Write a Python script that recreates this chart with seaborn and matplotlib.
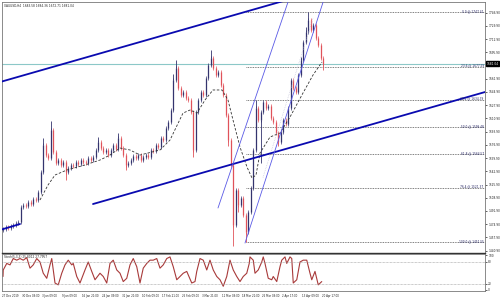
import matplotlib
matplotlib.use("Agg")
import matplotlib.pyplot as plt
import seaborn as sns
import numpy as np

# ---------------- data ----------------
title_text = "XAUUSD,H4  1683.58 1684.36 1672.71 1681.04"
stoch_title = "Stoch(5,3,3) 25.8012 27.7957"

closes = [1468.6, 1471.2, 1469.9, 1472.5, 1473.8, 1476.4, 1477.6, 1496.9, 1499.5, 1497.8,
          1503.0, 1501.2, 1507.9, 1505.6, 1516.2, 1542.0, 1576.7, 1563.8, 1560.0, 1596.0,
          1567.7, 1553.5, 1557.4, 1551.0, 1554.8, 1542.0, 1547.1, 1551.0, 1549.7, 1554.8,
          1552.2, 1557.4, 1554.8, 1553.5, 1560.0, 1557.4, 1561.2, 1570.3, 1580.6, 1572.8,
          1567.7, 1570.3, 1563.8, 1570.3, 1576.7, 1572.1, 1585.7, 1572.8, 1563.8, 1551.0,
          1553.5, 1557.4, 1562.5, 1560.0, 1563.8, 1557.4, 1561.2, 1563.8, 1560.9, 1570.3,
          1568.4, 1576.7, 1574.2, 1585.7, 1583.0, 1598.6, 1606.3, 1621.7, 1660.3, 1675.7,
          1650.0, 1641.0, 1644.9, 1637.2, 1634.6, 1619.1, 1570.3, 1619.1, 1634.6, 1644.9,
          1641.2, 1662.9, 1679.6, 1688.6, 1675.7, 1666.7, 1670.1, 1653.9, 1641.0, 1615.3,
          1583.1, 1551.0, 1473.8, 1518.8, 1499.5, 1508.5, 1486.6, 1464.8, 1490.5, 1521.4,
          1570.3, 1624.3, 1608.9, 1619.1, 1632.0, 1624.3, 1627.5, 1611.4, 1606.3, 1592.1,
          1580.6, 1593.4, 1608.9, 1604.2, 1624.3, 1660.3, 1650.0, 1644.9, 1666.7, 1686.1,
          1709.2, 1722.1, 1737.5, 1724.6, 1731.1, 1714.3, 1705.3, 1688.6, 1681.0]
first_open = 1467.0

hi_idx = [16, 19, 38, 46, 68, 69, 83, 101, 119, 121, 122]
hi_val = [1585.7, 1607.6, 1587.0, 1592.1, 1668.0, 1686.1, 1698.9, 1634.6, 1690.0, 1728.0, 1747.4]
lo_idx = [25, 49, 76, 90, 92, 94, 97, 103, 110, 128]
lo_val = [1531.7, 1544.6, 1561.2, 1575.0, 1447.0, 1490.0, 1451.6, 1553.5, 1575.0, 1673.2]

ma_t = [14.8, 18, 20.8, 25.6, 32.8, 38.8, 42.8, 46.8, 50.8, 54.8, 62.8, 66.8, 72, 74.8,
        77.6, 80.8, 84, 87.6, 90, 92, 94.8, 97.6, 99.6, 101.2, 102.8, 106.8, 110.8, 114.8,
        120, 124, 127.6]
ma_v = [1506.0, 1525.2, 1538.1, 1544.6, 1551.0, 1557.4, 1563.8, 1572.8, 1570.3, 1563.8,
        1570.3, 1583.1, 1617.8, 1621.7, 1617.8, 1634.6, 1647.5, 1647.5, 1634.6, 1608.9,
        1574.1, 1548.4, 1534.2, 1538.1, 1566.4, 1587.0, 1592.1, 1612.7, 1643.6, 1666.7,
        1683.5]

stoch_t = [0, 0.1, 1.5, 2.8, 4.1, 5.5, 6.8, 8.1, 9.5, 10.8, 12.1, 13.5, 14.8, 16.1, 17.5,
           18.8, 19.5, 20.8, 22.1, 23.5, 24.8, 26.1, 27.5, 28.1, 29.5, 30.8, 32.8, 34.1,
           35.5, 36.8, 38.8, 40.1, 41.5, 42.8, 44.1, 45.5, 46.8, 48.1, 49.5, 50.8, 52.1,
           53.5, 54.8, 56.1, 57.5, 58.8, 60.1, 61.5, 62.8, 64.1, 65.5, 66.8, 68.1, 69.5,
           70.8, 72.1, 73.5, 75.5, 76.8, 77.5, 78.8, 80.1, 81.5, 82.8, 84.1, 85.5, 86.8,
           88.1, 89.5, 90.8, 92.1, 93.5, 94.8, 96.1, 97.5, 98.5, 98.8, 100.1, 100.8, 102.1,
           103.5, 104.1, 104.8, 106.1, 107.5, 108.1, 109.5, 110.8, 111.5, 112.8, 113.5,
           114.8, 115.5, 116.1, 117.5, 118.8, 120.1, 121.5, 122.8, 123.5, 124.8, 126.1,
           127.5]
stoch_v = [40, 58, 76, 72, 89.5, 85, 89.5, 85, 92, 63, 72, 89.5, 80, 49, 35, 72, 89.5, 22,
           17, 49, 72, 85, 72, 76, 40, 22, 58, 80, 54, 31, 49, 40, 22, 76, 85, 58, 49, 26,
           35, 72, 89.5, 67, 22, 63, 76, 85, 85, 89.5, 63, 72, 89.5, 94, 67, 31, 40, 49, 54,
           22, 26, 54, 89.5, 85, 58, 85, 58, 40, 31, 13, 40, 85, 58, 40, 26, 40, 49, 76, 94,
           85, 49, 58, 80, 94, 76, 35, 31, 40, 26, 67, 85, 94, 76, 94, 89.5, 22, 31, 80, 85,
           85, 49, 31, 54, 17, 26]

fib_levels = ["0.0", "23.6", "38.2", "50.0", "61.8", "76.4", "100.0"]
fib_prices = [1747.41, 1677.59, 1634.39, 1599.48, 1564.57, 1521.37, 1451.55]
fib_start = 97.2

price_ticks = [1746.90, 1729.90, 1712.90, 1695.90, 1661.90, 1644.90, 1627.90,
               1610.90, 1593.90, 1576.90, 1559.90, 1542.90, 1525.90, 1508.90, 1491.90,
               1474.90, 1457.90, 1440.90]
current_price = 1681.04

date_ticks = [-0.4, 7.6, 15.6, 23.6, 31.6, 39.6, 47.6, 55.6, 63.6, 71.6, 79.6, 87.6, 95.6,
              103.6, 111.6, 119.6, 127.6]
date_labels = ["27 Dec 2019", "30 Dec 09:00", "3 Jan 09:00", "9 Jan 09:00", "16 Jan 21:00",
               "24 Jan 09:00", "31 Jan 21:00", "10 Feb 09:00", "17 Feb 21:00", "25 Feb 09:00",
               "3 Mar 21:00", "11 Mar 09:00", "18 Mar 21:00", "26 Mar 09:00", "2 Apr 17:00",
               "13 Apr 09:00", "20 Apr 17:00"]

# trend lines (index, price) pairs
upper_line = ([-1.2, 130.0], [1657.7, 1778.4])
lower_line = ([36.0, 193.5], [1500.8, 1645.5])
left_seg = ([-1.2, 6.8], [1467.4, 1475.1])
chan_a = ([86.0, 117.0], [1495.7, 1789.0])
chan_b = ([96.8, 131.0], [1450.6, 1790.0])
chan_mid = ([104.0, 124.0], [1535.0, 1740.0])

# ---------------- style ----------------
sns.set_style("white")
plt.rcParams['font.family'] = ['DejaVu Sans']

FS = 2.1
fig = plt.figure(figsize=(5, 3), dpi=100)
fig.patch.set_facecolor("white")
ax = fig.add_axes([2/500, 1-253/300, 483/500, 251/300])
axo = fig.add_axes([2/500, 1-291/300, 483/500, 37/300])

xlim = (-0.4, 192.8)
ax.set_xlim(*xlim)
ax.set_ylim(1437.8, 1760.66)

# candles
idx = np.arange(len(closes))
opens = [first_open] + closes[:-1]
bull = [c >= o for o, c in zip(opens, closes)]
for i in idx:
    col = "#34346e" if bull[i] else "#e0525a"
    lo_b, hi_b = min(opens[i], closes[i]), max(opens[i], closes[i])
    if hi_b - lo_b < 1.2:
        hi_b += 0.6; lo_b -= 0.6
    ax.vlines(i, lo_b - 2.5, hi_b + 2.5, color=col, lw=0.5, zorder=3)
    ax.vlines(i, lo_b, hi_b, color=col, lw=0.9, zorder=3)
for i, v in zip(hi_idx, hi_val):
    col = "#34346e" if bull[i] else "#e0525a"
    ax.vlines(i, max(opens[i], closes[i]), v, color=col, lw=0.6, zorder=3)
for i, v in zip(lo_idx, lo_val):
    col = "#34346e" if bull[i] else "#e0525a"
    ax.vlines(i, v, min(opens[i], closes[i]), color=col, lw=0.6, zorder=3)

# moving average
sns.lineplot(x=ma_t, y=ma_v, ax=ax, color="#333333", lw=0.6, sort=False,
             linestyle=(0, (3, 2)), zorder=4)

# fib levels
for lvl, p in zip(fib_levels, fib_prices):
    ax.hlines(p, fib_start, xlim[1], color="#555555", lw=0.6, linestyles=(0, (1, 1)), zorder=2)
    ax.text(192.3, p + 1.8, f"{lvl} @ {p:.2f}", fontsize=FS, color="#202060",
            ha="right", va="center", zorder=6)

# current price line
ax.axhline(current_price, color="#8cc8c8", lw=0.8, zorder=2)

# trend lines
for xs, ys in (upper_line, lower_line, left_seg):
    ax.plot(xs, ys, color="#0a0ab0", lw=1.3, zorder=5)
for xs, ys in (chan_a, chan_b):
    ax.plot(xs, ys, color="#5a5ae6", lw=0.6, zorder=5)
ax.plot(*chan_mid, color="#c0c0d8", lw=0.5, linestyle=(0, (1, 1.5)), zorder=4)

# axes styling
ax.yaxis.tick_right()
ax.set_yticks(price_ticks)
ax.set_yticklabels([f"{t:.2f}" for t in price_ticks], fontsize=FS, color="#222222")
ax.tick_params(axis="y", length=1.5, width=0.5, pad=0.8, colors="#222222")
ax.set_xticks([])
for s in ax.spines.values():
    s.set_color("#777777"); s.set_linewidth(0.6)
ax.spines["bottom"].set_color("#333333"); ax.spines["bottom"].set_linewidth(1.0)
ax.text(0.005, 0.993, title_text, transform=ax.transAxes, fontsize=FS, color="#222222",
        ha="left", va="top")
ax.text(1.004, (current_price - 1437.8) / (1760.66 - 1437.8), f"{current_price:.2f}",
        transform=ax.transAxes, fontsize=FS, color="white", ha="left", va="center",
        bbox=dict(boxstyle="square,pad=0.15", fc="black", ec="black"), zorder=10, clip_on=False)

# oscillator
axo.set_xlim(*xlim)
axo.set_ylim(0, 102)
sns.lineplot(x=stoch_t, y=stoch_v, ax=axo, color="#a83a3a", lw=0.8, sort=False)
axo.axhline(80, color="#999999", lw=0.5, linestyle=(0, (1, 1)))
axo.axhline(20, color="#999999", lw=0.5, linestyle=(0, (1, 1)))
axo.yaxis.tick_right()
axo.set_yticks([98, 80, 20, 3])
axo.set_yticklabels(["100", "80", "20", "0"], fontsize=FS, color="#222222")
axo.tick_params(axis="y", length=1.5, width=0.5, pad=0.8)
axo.set_xticks(date_ticks)
axo.set_xticklabels(date_labels, fontsize=1.9, color="#222222", ha="left")
axo.tick_params(axis="x", length=1.5, width=0.5, pad=0.8)
for s in axo.spines.values():
    s.set_color("#777777"); s.set_linewidth(0.6)
axo.text(0.005, 0.97, stoch_title, transform=axo.transAxes, fontsize=FS, color="#222222",
         ha="left", va="top")
axo.set_xlabel(""); axo.set_ylabel(""); ax.set_xlabel(""); ax.set_ylabel("")

fig.savefig("out.png", dpi=100, facecolor="white")
